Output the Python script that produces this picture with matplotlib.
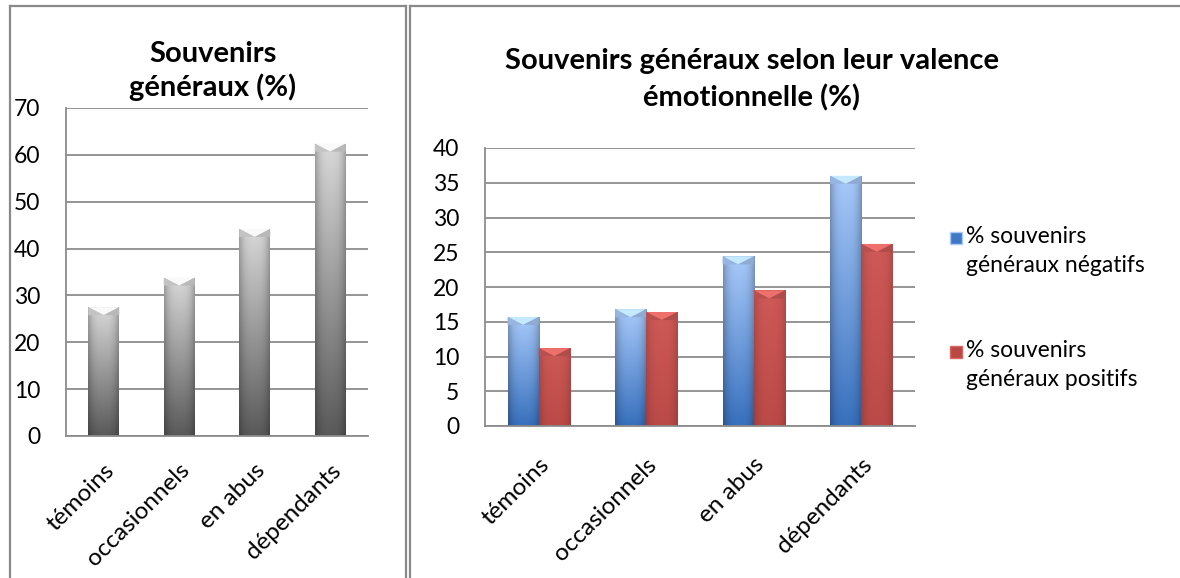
import numpy as np
import matplotlib
matplotlib.use("Agg")
import matplotlib.pyplot as plt
from matplotlib.patches import Rectangle, Polygon
from matplotlib.lines import Line2D

plt.rcParams['font.family'] = ['Lato', 'DejaVu Sans']

# ---------------- data ----------------
categories = ["témoins", "occasionnels", "en abus", "dépendants"]
general_values = [27.5, 33.8, 44.2, 62.4]
negative_values = [15.7, 16.8, 24.4, 36.0]
positive_values = [11.2, 16.4, 19.5, 26.2]
left_title = "Souvenirs\ngénéraux (%)"
right_title = "Souvenirs généraux selon leur valence\némotionnelle (%)"
series_labels = ["% souvenirs\ngénéraux négatifs", "% souvenirs\ngénéraux positifs"]
left_yticks = [0, 10, 20, 30, 40, 50, 60, 70]
right_yticks = [0, 5, 10, 15, 20, 25, 30, 35, 40]

W, H = 1180, 578
FS = 16.5
FSX = 17.5
fig = plt.figure(figsize=(W / 100, H / 100), dpi=100)
fig.patch.set_facecolor("white")


def px_axes(x0, y0, x1, y1):
    return fig.add_axes([x0 / W, 1 - y1 / H, (x1 - x0) / W, (y1 - y0) / H])


def style_axes(ax, ticks):
    ax.set_ylim(ticks[0], ticks[-1])
    ax.set_yticks(ticks)
    ax.yaxis.grid(True, color="#8c8c8c", linewidth=1.3)
    ax.set_axisbelow(True)
    for s in ["top", "right"]:
        ax.spines[s].set_visible(False)
    for s in ["left", "bottom"]:
        ax.spines[s].set_color("#8c8c8c")
        ax.spines[s].set_linewidth(1.3)
    ax.tick_params(axis="both", length=0, labelsize=FS, colors="black")
    ax.tick_params(axis="x", labelsize=FSX)
    ax.tick_params(axis="y", pad=18.5)


def shade_bar(ax, bar, top_rgb, bot_rgb, edge_dark=0.25):
    x0, y0 = bar.get_x(), bar.get_y()
    w, h = bar.get_width(), bar.get_height()
    ny, nx = 100, 40
    t = np.linspace(0, 1, ny)[:, None, None]
    u = np.linspace(-1, 1, nx)[None, :, None]
    top = np.array(top_rgb)[None, None, :]
    bot = np.array(bot_rgb)[None, None, :]
    col = top * (1 - t) + bot * t
    fac = 1 - edge_dark * np.abs(u) ** 3
    img = np.clip(col * fac, 0, 1)
    im = ax.imshow(img, extent=(x0, x0 + w, y0, y0 + h), origin="upper",
                   aspect="auto", zorder=bar.get_zorder() + 0.1, interpolation="bilinear")
    im.set_clip_path(bar)
    # top bevel (chevron)
    disp = ax.transData.transform([(0, 0), (0, 1)])
    ppu = abs(disp[1][1] - disp[0][1])
    b = 8.0 / ppu
    yt = y0 + h
    xc = x0 + w / 2
    tri = Polygon([(x0, yt), (x0 + w, yt), (xc, yt - b)], closed=True,
                  facecolor=tuple(np.clip(np.array(top_rgb) * 1.08 + 0.06, 0, 1)),
                  edgecolor="none", zorder=bar.get_zorder() + 0.2)
    ax.add_patch(tri)
    side_l = Polygon([(x0, yt), (xc, yt - b), (x0, yt - b)], closed=True,
                     facecolor=tuple(np.clip(np.array(top_rgb) * 0.9, 0, 1)),
                     edgecolor="none", zorder=bar.get_zorder() + 0.2)
    side_r = Polygon([(x0 + w, yt), (xc, yt - b), (x0 + w, yt - b)], closed=True,
                     facecolor=tuple(np.clip(np.array(top_rgb) * 0.85, 0, 1)),
                     edgecolor="none", zorder=bar.get_zorder() + 0.2)
    ax.add_patch(side_l)
    ax.add_patch(side_r)


# ---------------- left chart ----------------
axL = px_axes(66, 108, 368, 436)
xL = np.arange(len(categories))
barsL = axL.bar(xL, general_values, width=0.41, color="#9a9a9a", zorder=2)
axL.set_xlim(-0.5, len(categories) - 0.5)
style_axes(axL, left_yticks)
axL.set_xticks(xL)
axL.set_xticklabels(categories, rotation=45, ha="right", rotation_mode="anchor")
axL.tick_params(axis="x", pad=17)
for b in barsL:
    shade_bar(axL, b, (0.85, 0.85, 0.85), (0.35, 0.35, 0.35))

# ---------------- right chart ----------------
axR = px_axes(485, 148, 915, 426)
xR = np.arange(len(categories))
bw = 0.29
barsN = axR.bar(xR - bw / 2, negative_values, width=bw, color="#4f81bd", zorder=2)
barsP = axR.bar(xR + bw / 2, positive_values, width=bw, color="#c0504d", zorder=2)
axR.set_xlim(-0.5, len(categories) - 0.5)
style_axes(axR, right_yticks)
axR.set_xticks(xR)
axR.set_xticklabels(categories, rotation=45, ha="right", rotation_mode="anchor")
axR.tick_params(axis="x", pad=20)
for b in barsN:
    shade_bar(axR, b, (0.66, 0.79, 0.98), (0.22, 0.44, 0.74))
for b in barsP:
    shade_bar(axR, b, (0.81, 0.35, 0.34), (0.73, 0.29, 0.28), edge_dark=0.15)

# ---------------- titles ----------------
fig.text(213 / W, 1 - 71 / H, left_title, ha="center", va="center",
         fontsize=21, fontweight="bold", linespacing=1.28)
fig.text(752 / W, 1 - 80 / H, right_title, ha="center", va="center",
         fontsize=21, fontweight="bold", linespacing=1.45)

# ---------------- legend ----------------
leg_colors = [((0.66, 0.79, 0.98), (0.25, 0.47, 0.78)), ((0.85, 0.40, 0.38), (0.72, 0.28, 0.27))]
leg_y = [238, 352]
for (c1, c2), lab, yy in zip(leg_colors, series_labels, leg_y):
    fig.patches.append(Rectangle((950 / W, 1 - (yy + 6) / H), 12 / W, 12 / H,
                                 transform=fig.transFigure, facecolor=c2,
                                 edgecolor=c1, linewidth=1.0))
    fig.text(966 / W, 1 - (yy - 12) / H, lab, ha="left", va="top",
             fontsize=FS, linespacing=1.45)

# ---------------- panel borders ----------------
def fline(xs, ys, color="#8a8a8a", lw=1.6):
    fig.add_artist(Line2D([x / W for x in xs], [1 - y / H for y in ys],
                          transform=fig.transFigure, color=color, linewidth=lw))

fline([9.5, 9.5], [6, 578])
fline([9.5, 406], [6, 6])
fline([406, 406], [6, 578])
fline([410, 410], [6, 578])
fline([410, 1180], [6, 6])

fig.savefig("out.png", dpi=100, facecolor="white")
